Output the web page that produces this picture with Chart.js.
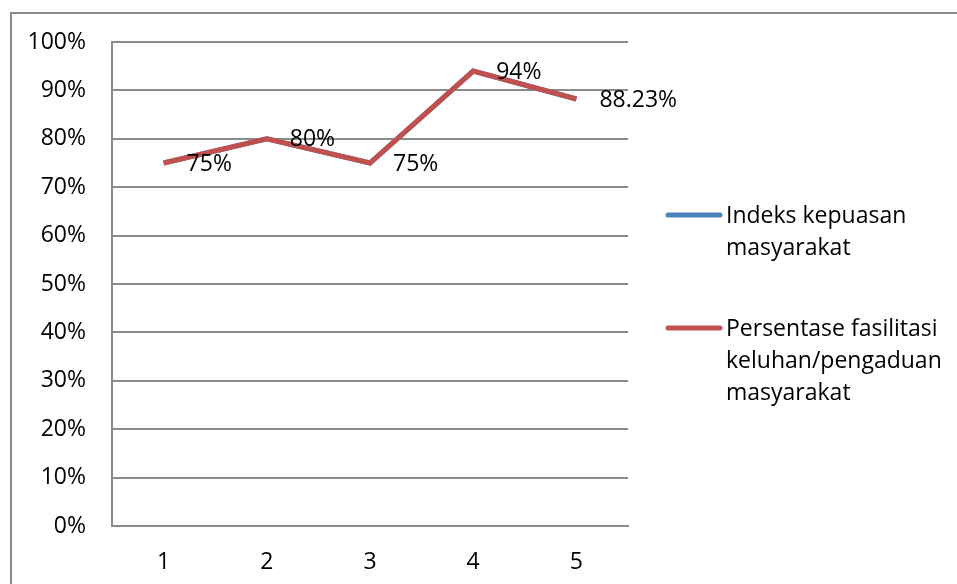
<!DOCTYPE html>
<html>
<head>
<meta charset="utf-8">
<script src="https://cdn.jsdelivr.net/npm/chart.js@4/dist/chart.umd.min.js"></script>
<style>
    html, body { margin: 0; padding: 0; background: #fff; }
    #wrap { width: 957px; height: 584px; }
</style>
</head>
<body>
<div id="wrap"><canvas id="chart" width="957" height="584"></canvas></div>
<script>
// Data
const categories = ['1', '2', '3', '4', '5'];
const indeksKepuasan = [75, 80, 75, 94, 88.23];
const persentaseFasilitasi = [75, 80, 75, 94, 88.23];
const dataLabels = ['75%', '80%', '75%', '94%', '88.23%'];
const seriesNames = [
    ['Indeks kepuasan', 'masyarakat'],
    ['Persentase fasilitasi', 'keluhan/pengaduan', 'masyarakat']
];

const FONT = '"Open Sans", sans-serif';
const BLUE = '#4F81BD';
const RED = '#C0504D';
const GRID = '#8a8a8a';

// Outer frame (left + top only, like the cropped original)
const framePlugin = {
    id: 'frame',
    beforeDraw(chart) {
        const ctx = chart.ctx;
        ctx.save();
        ctx.strokeStyle = GRID;
        ctx.lineWidth = 2;
        ctx.beginPath();
        ctx.moveTo(11, 584);
        ctx.lineTo(11, 13);
        ctx.lineTo(957, 13);
        ctx.stroke();
        ctx.restore();
    }
};

// Value labels right of the red series points
const labelPlugin = {
    id: 'valueLabels',
    afterDatasetsDraw(chart) {
        const ctx = chart.ctx;
        const meta = chart.getDatasetMeta(1);
        ctx.save();
        ctx.font = '23px ' + FONT;
        ctx.fillStyle = '#000';
        ctx.textAlign = 'left';
        ctx.textBaseline = 'middle';
        meta.data.forEach((pt, i) => {
            ctx.fillText(dataLabels[i], pt.x + 23, pt.y + 1);
        });
        ctx.restore();
    }
};

// Legend on the right with wrapped text
const legendPlugin = {
    id: 'sideLegend',
    afterDraw(chart) {
        const ctx = chart.ctx;
        const colors = [BLUE, RED];
        const tops = [215, 328];
        ctx.save();
        ctx.font = '23px ' + FONT;
        ctx.fillStyle = '#000';
        ctx.textAlign = 'left';
        ctx.textBaseline = 'middle';
        seriesNames.forEach((lines, i) => {
            ctx.strokeStyle = colors[i];
            ctx.lineWidth = 5;
            ctx.lineCap = 'round';
            ctx.beginPath();
            ctx.moveTo(668, tops[i]);
            ctx.lineTo(720, tops[i]);
            ctx.stroke();
            lines.forEach((t, j) => {
                ctx.fillText(t, 726, tops[i] + 1 + j * 32);
            });
        });
        ctx.restore();
    }
};

new Chart(document.getElementById('chart'), {
    type: 'line',
    data: {
        labels: categories,
        datasets: [
            {
                label: seriesNames[0].join(' '),
                data: indeksKepuasan,
                borderColor: BLUE,
                backgroundColor: BLUE,
                borderWidth: 5,
                pointRadius: 0,
                tension: 0,
                order: 1
            },
            {
                label: seriesNames[1].join(' '),
                data: persentaseFasilitasi,
                borderColor: RED,
                backgroundColor: RED,
                borderWidth: 5,
                pointRadius: 0,
                tension: 0,
                order: 0
            }
        ]
    },
    options: {
        responsive: false,
        animation: false,
        layout: {
            padding: { left: 10, right: 329, top: 42, bottom: 0 }
        },
        scales: {
            x: {
                offset: true,
                grid: { display: false, drawTicks: false },
                border: { display: true, color: GRID, width: 2 },
                ticks: {
                    color: '#000',
                    padding: 23,
                    font: { family: FONT, size: 23 }
                },
                afterFit(scale) { scale.height = 58; }
            },
            y: {
                min: 0,
                max: 100,
                grid: { color: GRID, lineWidth: 2, drawTicks: false },
                border: { display: true, color: GRID, width: 2 },
                ticks: {
                    stepSize: 10,
                    color: '#000',
                    padding: 26,
                    font: { family: FONT, size: 23 },
                    callback: v => v + '%'
                },
                afterFit(scale) { scale.width = 102; }
            }
        },
        plugins: {
            legend: { display: false },
            tooltip: { enabled: false }
        }
    },
    plugins: [framePlugin, labelPlugin, legendPlugin]
});
</script>
</body>
</html>
